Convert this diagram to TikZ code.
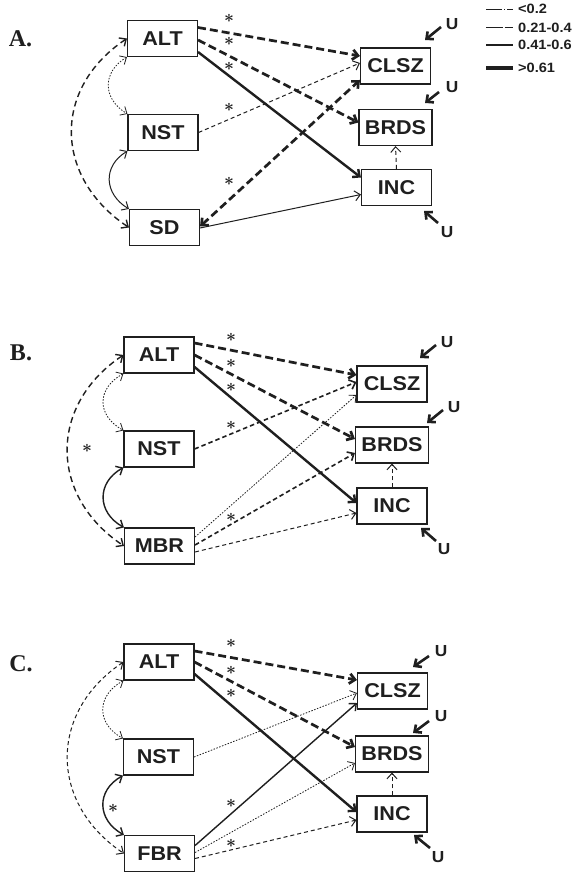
\documentclass[tikz,border=0pt]{standalone}
\usepackage{fontspec}
\usetikzlibrary{arrows.meta,calc}
\newfontfamily\boxfont{Liberation Sans}[FakeStretch=1.08]
\newfontfamily\panelfont{Liberation Serif}

\tikzset{
  ink/.style={draw=black!88},
  box/.style={draw=black!88, line width=1.1pt, minimum width=70pt, minimum height=36pt,
    inner sep=0pt, text=black!88, font=\boxfont\bfseries\fontsize{20}{20}\selectfont},
  wbox/.style={box, minimum width=73pt},
  tip/.style={-{Straight Barb[length=5.5pt,width=10pt]}},
  bitip/.style={{Straight Barb[length=5.5pt,width=10pt]}-{Straight Barb[length=5.5pt,width=10pt]}},
  heavydash/.style={ink, line width=2.7pt, dash pattern=on 8pt off 4pt},
  heavy/.style={ink, line width=2.4pt},
  medsolid/.style={ink, line width=1.4pt},
  thinsolid/.style={ink, line width=1pt},
  meddash/.style={ink, line width=1.6pt, dash pattern=on 4.5pt off 3pt},
  thindash/.style={ink, line width=1pt, dash pattern=on 4pt off 3pt},
  finedot/.style={ink, line width=0.8pt, dash pattern=on 1.5pt off 1.5pt},
  covdash/.style={ink, line width=1.4pt, dash pattern=on 6pt off 4pt},
  covthin/.style={ink, line width=1pt, dash pattern=on 4pt off 3pt},
  sig/.style={inner sep=0pt, text=black!88, font=\fontsize{18}{18}\selectfont\boldmath},
  ulab/.style={inner sep=0pt, text=black!88, font=\boxfont\bfseries\fontsize{16}{16}\selectfont},
  uarr/.style={ink, line width=2.6pt, -{Straight Barb[length=5.5pt,width=10pt]}},
  panel/.style={inner sep=0pt, text=black!88, font=\panelfont\bfseries\fontsize{24}{24}\selectfont},
  legtext/.style={anchor=west, inner sep=0pt, text=black!88, font=\boxfont\bfseries\fontsize{13.5}{13.5}\selectfont},
}

\begin{document}
\begin{tikzpicture}[x=1pt, y=-1pt]
\useasboundingbox (0,0) rectangle (572,874);
\fill[white] (0,0) rectangle (572,874);

% ---------- legend ----------
\coordinate (l1a) at (486,9);  \coordinate (l1b) at (513,9);
\coordinate (l2a) at (486,28); \coordinate (l2b) at (513,28);
\coordinate (l3a) at (486,45); \coordinate (l3b) at (513,45);
\coordinate (l4a) at (486,68); \coordinate (l4b) at (513,68);
\draw[ink, line width=0.6pt, dash pattern=on 16pt off 2pt on 1pt off 2pt] (l1a) -- (l1b);
\draw[ink, line width=1pt, dash pattern=on 17pt off 1.5pt] (l2a) -- (l2b);
\draw[ink, line width=1.4pt] (l3a) -- (l3b);
\draw[ink, line width=3.6pt] (l4a) -- (l4b);
\node[legtext] (leg1) at (518,9) {<0.2};
\node[legtext] (leg2) at (518,28) {0.21-0.4};
\node[legtext] (leg3) at (518,45) {0.41-0.6};
\node[legtext] (leg4) at (518,68) {>0.61};

% ================= panel A =================
\node[panel] (pA) at (20.5,38.5) {A.};
\node[box]  (aALT)  at (162.5,38.5)  {ALT};
\node[box]  (aNST)  at (163,132.5)   {NST};
\node[box]  (aSD)   at (164.5,227.5) {SD};
\node[box]  (aCLSZ) at (395.5,66)    {CLSZ};
\node[wbox] (aBRDS) at (395.5,127.5) {BRDS};
\node[box]  (aINC)  at (396.5,187.5) {INC};

\draw[heavydash, tip] ($(aALT.east)+(0,-11)$) -- ($(aCLSZ.west)+(0,-10)$);
\draw[heavydash, tip] ($(aALT.east)+(0,1.5)$) -- ($(aBRDS.west)+(0,-5)$);
\draw[heavy, tip]     ($(aALT.east)+(0,13.5)$) -- ($(aINC.west)+(0,-10)$);
\draw[thindash, tip]  (aNST.east) -- ($(aCLSZ.west)+(0,-3)$);
\draw[heavydash, bitip] ($(aSD.east)+(0,-1)$) -- ($(aCLSZ.west)+(0,14)$);
\draw[thinsolid, tip] ($(aSD.east)+(0,0.5)$) -- ($(aINC.west)+(0,7)$);
\draw[thindash, tip]  (aINC.north) -- (aBRDS.south);

\draw[covdash, bitip] (aALT.west) .. controls +(-75,50) and +(-75,-50) .. (aSD.west);
\draw[finedot, bitip] (aALT.south west) .. controls +(-25,15) and +(-25,-15) .. (aNST.north west);
\draw[thinsolid, bitip] (aNST.south west) .. controls +(-25,15) and +(-25,-15) .. (aSD.north west);

\node[sig] (aS1) at (229,18)  {$\ast$};
\node[sig] (aS2) at (229,41)  {$\ast$};
\node[sig] (aS3) at (229,66)  {$\ast$};
\node[sig] (aS4) at (229,107) {$\ast$};
\node[sig] (aS5) at (229,181) {$\ast$};

\coordinate (aT1) at (441,27);  \coordinate (aH1) at (425,40);
\coordinate (aT2) at (439,92);  \coordinate (aH2) at (425,103);
\coordinate (aT3) at (438,223); \coordinate (aH3) at (424,211);
\draw[uarr] (aT1) -- (aH1);
\draw[uarr] (aT2) -- (aH2);
\draw[uarr] (aT3) -- (aH3);
\node[ulab] (aU1) at (452,24)  {U};
\node[ulab] (aU2) at (452,87)  {U};
\node[ulab] (aU3) at (447,232) {U};

% ================= panel B =================
\node[panel] (pB) at (21,352.5) {B.};
\node[box]  (bALT)  at (159,355)   {ALT};
\node[box]  (bNST)  at (159,449)   {NST};
\node[box]  (bMBR)  at (159.5,546) {MBR};
\node[box]  (bCLSZ) at (392,384)   {CLSZ};
\node[wbox] (bBRDS) at (392,445)   {BRDS};
\node[box]  (bINC)  at (392,506)   {INC};

\draw[heavydash, tip] ($(bALT.east)+(0,-12)$) -- ($(bCLSZ.west)+(0,-9)$);
\draw[heavydash, tip] (bALT.east) -- ($(bBRDS.west)+(0,-6)$);
\draw[heavy, tip]     ($(bALT.east)+(0,12)$) -- ($(bINC.west)+(0,-3)$);
\draw[meddash, tip]   (bNST.east) -- ($(bCLSZ.west)+(0,-2)$);
\draw[finedot, tip]   ($(bMBR.east)+(0,-9)$) -- ($(bCLSZ.west)+(0,11)$);
\draw[meddash, tip]   ($(bMBR.east)+(0,-1)$) -- ($(bBRDS.west)+(0,8)$);
\draw[thindash, tip]  ($(bMBR.east)+(0,6)$) -- ($(bINC.west)+(0,7)$);
\draw[thindash, tip]  (bINC.north) -- (bBRDS.south);

\draw[covdash, bitip] (bALT.west) .. controls +(-75,50) and +(-75,-50) .. (bMBR.west);
\draw[finedot, bitip] (bALT.south west) .. controls +(-27,15) and +(-27,-15) .. (bNST.north west);
\draw[medsolid, bitip] (bNST.south west) .. controls +(-27,15) and +(-27,-15) .. (bMBR.north west);

\node[sig] (bS1) at (231,337) {$\ast$};
\node[sig] (bS2) at (231,363) {$\ast$};
\node[sig] (bS3) at (231,387) {$\ast$};
\node[sig] (bS4) at (231,425) {$\ast$};
\node[sig] (bS5) at (231,517) {$\ast$};
\node[sig] (bS6) at (87,448)  {$\ast$};

\coordinate (bT1) at (436,345); \coordinate (bH1) at (420,358);
\coordinate (bT2) at (443,410); \coordinate (bH2) at (427,423);
\coordinate (bT3) at (436,541); \coordinate (bH3) at (421,528);
\draw[uarr] (bT1) -- (bH1);
\draw[uarr] (bT2) -- (bH2);
\draw[uarr] (bT3) -- (bH3);
\node[ulab] (bU1) at (447,342) {U};
\node[ulab] (bU2) at (454,407) {U};
\node[ulab] (bU3) at (444,549) {U};

% ================= panel C =================
\node[panel] (pC) at (21,664) {C.};
\node[box]  (cALT)  at (159,662)   {ALT};
\node[box]  (cNST)  at (158.5,757) {NST};
\node[box]  (cFBR)  at (159.5,853.5) {FBR};
\node[box]  (cCLSZ) at (392.5,691) {CLSZ};
\node[wbox] (cBRDS) at (392,754)   {BRDS};
\node[box]  (cINC)  at (392,814)   {INC};

\draw[heavydash, tip] ($(cALT.east)+(0,-11)$) -- ($(cCLSZ.west)+(0,-11)$);
\draw[heavydash, tip] (cALT.east) -- ($(cBRDS.west)+(0,-7)$);
\draw[heavy, tip]     ($(cALT.east)+(0,12)$) -- ($(cINC.west)+(0,-2)$);
\draw[finedot, tip]   (cNST.east) -- ($(cCLSZ.west)+(0,2)$);
\draw[medsolid, tip]  ($(cFBR.east)+(0,-8)$) -- ($(cCLSZ.west)+(0,12)$);
\draw[finedot, tip]   ($(cFBR.east)+(0,-1)$) -- ($(cBRDS.west)+(0,9)$);
\draw[thindash, tip]  ($(cFBR.east)+(0,5)$) -- ($(cINC.west)+(0,6)$);
\draw[thindash, tip]  (cINC.north) -- (cBRDS.south);

\draw[covthin, bitip] (cALT.west) .. controls +(-75,50) and +(-75,-50) .. (cFBR.west);
\draw[finedot, bitip] (cALT.south west) .. controls +(-27,15) and +(-27,-15) .. (cNST.north west);
\draw[medsolid, bitip] (cNST.south west) .. controls +(-27,15) and +(-27,-15) .. (cFBR.north west);

\node[sig] (cS1) at (231,643) {$\ast$};
\node[sig] (cS2) at (231,670) {$\ast$};
\node[sig] (cS3) at (231,693) {$\ast$};
\node[sig] (cS4) at (231,803) {$\ast$};
\node[sig] (cS5) at (231,843) {$\ast$};
\node[sig] (cS6) at (113,808) {$\ast$};

\coordinate (cT1) at (429,656); \coordinate (cH1) at (413,667);
\coordinate (cT2) at (429,721); \coordinate (cH2) at (413,733);
\coordinate (cT3) at (430,848); \coordinate (cH3) at (414,835);
\draw[uarr] (cT1) -- (cH1);
\draw[uarr] (cT2) -- (cH2);
\draw[uarr] (cT3) -- (cH3);
\node[ulab] (cU1) at (441,651) {U};
\node[ulab] (cU2) at (441,716) {U};
\node[ulab] (cU3) at (438,857) {U};
\end{tikzpicture}
\end{document}
